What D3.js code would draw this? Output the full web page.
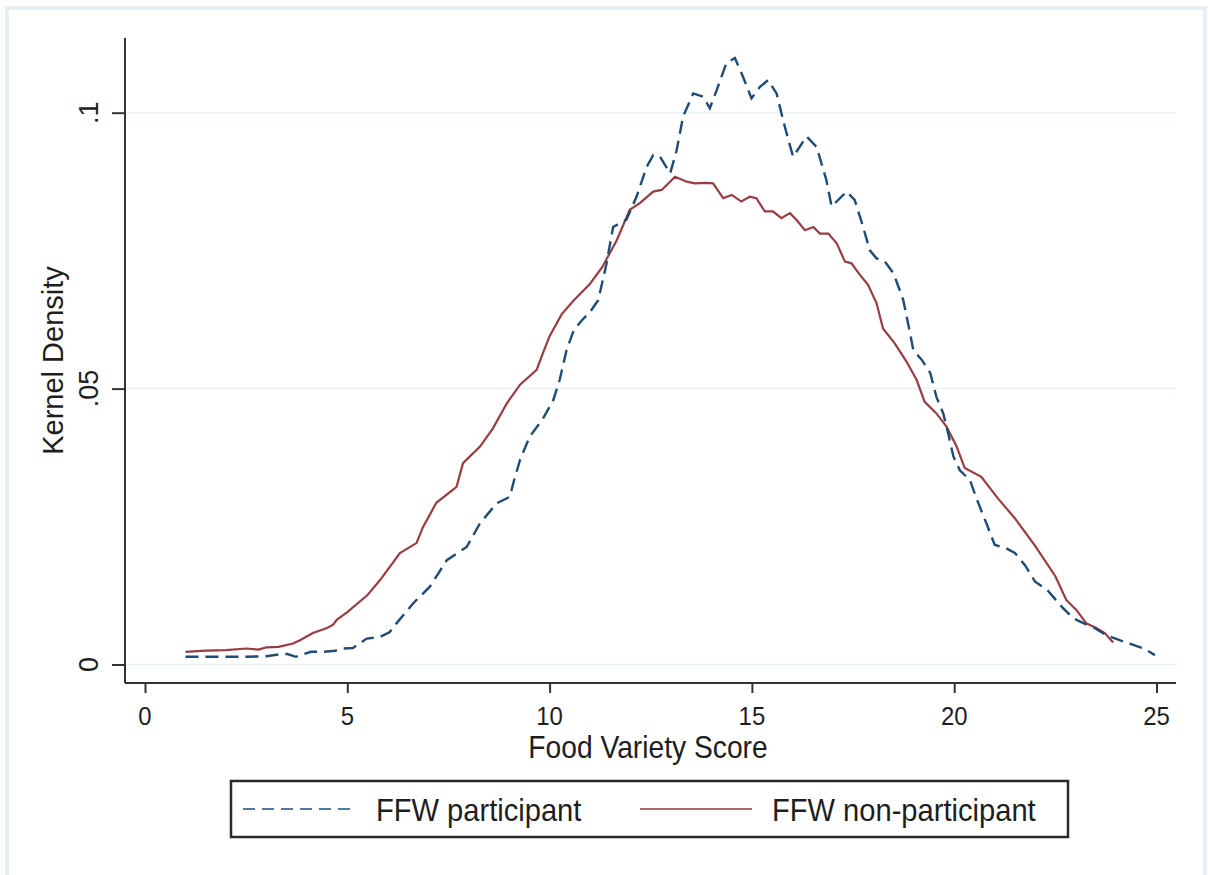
<!DOCTYPE html>
<html>
<head>
<meta charset="utf-8">
<script src="https://cdn.jsdelivr.net/npm/d3@7"></script>
<style>
  html, body { margin: 0; padding: 0; background: #fff; }
  text { font-family: "Liberation Sans", Arial, sans-serif; fill: #1e1e1e; }
</style>
</head>
<body>
<div id="chart"></div>
<script>
// Kernel density of food variety score, FFW participants vs non-participants

// participant curve (dashed)
const partX = [1.0, 1.5, 2.0, 2.5, 3.0, 3.37, 3.52, 3.73, 4.1, 4.4, 4.7, 4.9, 5.14, 5.48, 5.81, 6.05, 6.22, 6.63, 7.04, 7.46,
  7.95, 8.28, 8.69, 9.02, 9.1, 9.27, 9.51, 9.84, 10.09, 10.25, 10.42, 10.6, 10.8, 11.0, 11.2, 11.4, 11.57, 11.9, 12.15, 12.4,
  12.56, 12.73, 12.98, 13.14, 13.3, 13.55, 13.8, 13.96, 14.13, 14.37, 14.58, 14.78, 14.99, 15.2, 15.4, 15.61, 15.77, 15.9, 16.02, 16.35,
  16.6, 16.84, 16.97, 17.34, 17.54, 17.75, 17.91, 18.08, 18.29, 18.5, 18.62, 18.74, 18.91, 18.99, 19.2, 19.41, 19.56, 19.73, 19.85, 19.98,
  20.14, 20.39, 20.55, 20.8, 21.0, 21.3, 21.5, 21.75, 22.0, 22.3, 22.69, 22.94, 23.19, 23.43, 23.76, 24.09, 24.34, 24.71, 24.96];
const partY = [.0014, .0014, .0014, .0014, .0015, .0019, .0019, .0014, .0023, .0023, .0025, .0029, .0030, .0047, .0050, .0059, .0075, .0111, .0141, .0189,
  .0213, .0256, .0292, .0304, .0328, .0371, .0413, .0446, .0479, .0516, .0570, .0606, .0624, .0639, .0660, .0724, .0793, .0806, .0848, .0902,
  .0923, .0920, .0890, .0932, .0993, .1035, .1029, .1008, .1041, .1090, .1099, .1065, .1026, .1047, .1059, .1035, .0987, .0951, .0920, .0957,
  .0938, .0878, .0830, .0857, .0842, .0793, .0751, .0736, .0730, .0709, .0685, .0661, .0600, .0570, .0552, .0528, .0485, .0455, .0419, .0377,
  .0352, .0334, .0301, .0255, .0217, .0210, .0202, .0180, .0150, .0135, .0102, .0084, .0075, .0068, .0053, .0044, .0038, .0028, .0017];

// non-participant curve (solid)
const nonX = [1.0, 1.5, 2.0, 2.5, 2.8, 3.0, 3.3, 3.66, 3.83, 4.15, 4.5, 4.65, 4.74, 5.0, 5.5, 5.81, 6.3, 6.71, 6.87, 7.2,
  7.7, 7.86, 8.28, 8.6, 8.94, 9.27, 9.68, 9.84, 10.0, 10.3, 10.6, 11.0, 11.3, 11.66, 11.98, 12.23, 12.56, 12.77, 13.1, 13.39,
  13.59, 13.88, 14.04, 14.29, 14.5, 14.74, 14.95, 15.11, 15.32, 15.52, 15.73, 15.94, 16.1, 16.31, 16.52, 16.68, 16.89, 17.1, 17.3, 17.46,
  17.67, 17.87, 18.08, 18.24, 18.53, 18.82, 19.07, 19.27, 19.56, 19.81, 20.06, 20.26, 20.67, 21.08, 21.5, 22.0, 22.5, 22.77, 23.02, 23.26,
  23.51, 23.72, 23.93];
const nonY = [.0023, .0025, .0026, .0029, .0027, .0031, .0032, .0038, .0044, .0057, .0066, .0072, .0081, .0095, .0126, .0153, .0202, .0220, .0249, .0293,
  .0322, .0365, .0395, .0428, .0473, .0507, .0534, .0565, .0595, .0635, .0660, .0690, .0720, .0769, .0824, .0836, .0857, .0860, .0884, .0875,
  .0872, .0873, .0872, .0845, .0851, .0839, .0848, .0845, .0821, .0821, .0809, .0818, .0806, .0787, .0793, .0781, .0781, .0763, .0730, .0727,
  .0706, .0688, .0655, .0609, .0582, .0549, .0516, .0476, .0455, .0431, .0395, .0356, .0340, .0301, .0265, .0215, .0160, .0117, .0099, .0075,
  .0066, .0057, .0040];

const xTicks = [0, 5, 10, 15, 20, 25];
const yTicks = [0, 0.05, 0.1];
const yTickLabels = ['0', '.05', '.1'];
const seriesNames = ['FFW participant', 'FFW non-participant'];

const W = 1208, H = 875;
const colPart = '#1f4b74', colNon = '#983d43';
const plot = { left: 125, right: 1176, top: 38, bottom: 683 };

const svg = d3.select('#chart').append('svg')
    .attr('width', W)
    .attr('height', H);

// light outer graph-region frame
svg.append('rect')
    .attr('x', 7).attr('y', 8)
    .attr('width', 1198).attr('height', 880)
    .attr('fill', '#fff')
    .attr('stroke', '#e6eff1')
    .attr('stroke-width', 4);

const x = d3.scaleLinear().domain([0, 25]).range([145, 1156.5]);
const y = d3.scaleLinear().domain([0, 0.1]).range([664.5, 112.7]);

// gridlines
svg.append('g').selectAll('line')
    .data(yTicks)
    .join('line')
    .attr('x1', plot.left).attr('x2', plot.right)
    .attr('y1', d => y(d)).attr('y2', d => y(d))
    .attr('stroke', '#eaf1f4')
    .attr('stroke-width', 1.5);

// curves
const line = d3.line().x(d => x(d[0])).y(d => y(d[1]));

svg.append('path')
    .datum(nonX.map((v, i) => [v, nonY[i]]))
    .attr('d', line)
    .attr('fill', 'none')
    .attr('stroke', colNon)
    .attr('stroke-width', 2.2);

svg.append('path')
    .datum(partX.map((v, i) => [v, partY[i]]))
    .attr('d', line)
    .attr('fill', 'none')
    .attr('stroke', colPart)
    .attr('stroke-width', 2.4)
    .attr('stroke-dasharray', '13,7');

// axes
const xAxis = svg.append('g')
    .attr('transform', `translate(0,${plot.bottom})`)
    .call(d3.axisBottom(x).tickValues(xTicks).tickSize(10).tickSizeOuter(0).tickFormat(''));
xAxis.select('.domain').remove();
xAxis.selectAll('.tick line').attr('stroke', '#333').attr('stroke-width', 2);

const yAxis = svg.append('g')
    .attr('transform', `translate(${plot.left},0)`)
    .call(d3.axisLeft(y).tickValues(yTicks).tickSize(13).tickSizeOuter(0).tickFormat(''));
yAxis.select('.domain').remove();
yAxis.selectAll('.tick line').attr('stroke', '#333').attr('stroke-width', 2);

svg.append('line')
    .attr('x1', plot.left).attr('x2', plot.right)
    .attr('y1', plot.bottom).attr('y2', plot.bottom)
    .attr('stroke', '#333').attr('stroke-width', 2);
svg.append('line')
    .attr('x1', plot.left).attr('x2', plot.left)
    .attr('y1', plot.top).attr('y2', plot.bottom)
    .attr('stroke', '#333').attr('stroke-width', 2);

// tick labels
svg.append('g').selectAll('text')
    .data(xTicks)
    .join('text')
    .attr('transform', d => `translate(${x(d)},725) scale(0.92,1)`)
    .attr('text-anchor', 'middle')
    .attr('font-size', 26)
    .text(d => d);

svg.append('g').selectAll('text')
    .data(yTicks)
    .join('text')
    .attr('transform', d => `translate(98,${y(d)}) rotate(-90)`)
    .attr('text-anchor', 'middle')
    .attr('font-size', 27)
    .text((d, i) => yTickLabels[i]);

// axis titles
svg.append('text')
    .attr('transform', 'translate(648,758) scale(0.91,1)')
    .attr('text-anchor', 'middle')
    .attr('font-size', 31)
    .text('Food Variety Score');

svg.append('text')
    .attr('transform', `translate(63,${(plot.top + plot.bottom) / 2}) rotate(-90)`)
    .attr('text-anchor', 'middle')
    .attr('font-size', 29)
    .text('Kernel Density');

// legend
const legend = svg.append('g');
legend.append('rect')
    .attr('x', 231).attr('y', 781)
    .attr('width', 837).attr('height', 56)
    .attr('fill', '#fff')
    .attr('stroke', '#2a2a2a')
    .attr('stroke-width', 2.5);

legend.append('line')
    .attr('x1', 243).attr('x2', 356)
    .attr('y1', 809).attr('y2', 809)
    .attr('stroke', colPart).attr('stroke-width', 2.2)
    .attr('stroke-dasharray', '12,7')
    .attr('opacity', 0.75);
legend.append('text')
    .attr('transform', 'translate(376,821) scale(0.91,1)')
    .attr('font-size', 32)
    .text(seriesNames[0]);

legend.append('line')
    .attr('x1', 640).attr('x2', 752)
    .attr('y1', 809).attr('y2', 809)
    .attr('stroke', colNon).attr('stroke-width', 2.2)
    .attr('opacity', 0.75);
legend.append('text')
    .attr('transform', 'translate(772,821) scale(0.91,1)')
    .attr('font-size', 32)
    .text(seriesNames[1]);
</script>
</body>
</html>
